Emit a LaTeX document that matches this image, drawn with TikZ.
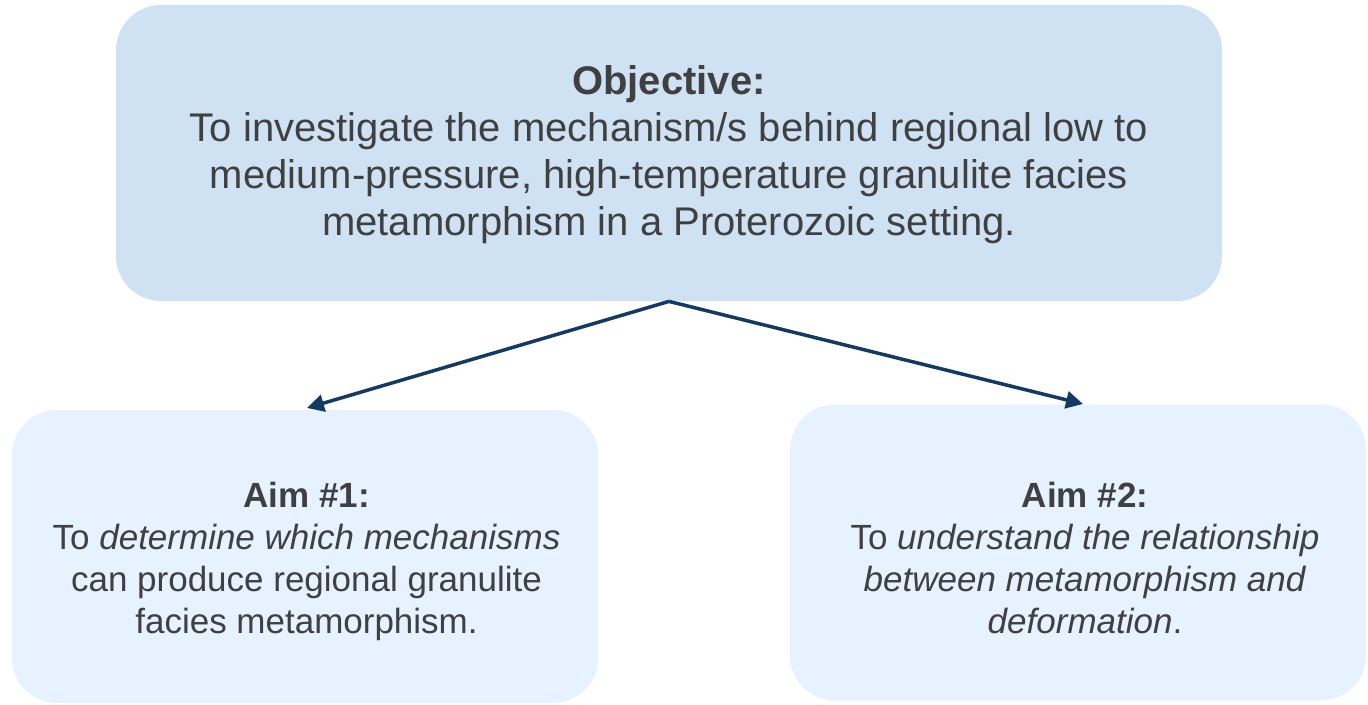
\documentclass[tikz,border=0pt]{standalone}
\usepackage{fontspec}
\setmainfont{Liberation Sans}
\usepackage{xcolor}
\definecolor{objblue}{RGB}{207,226,243}
\definecolor{aimblue}{RGB}{230,242,255}
\definecolor{navy}{RGB}{18,58,100}
\definecolor{textgrey}{RGB}{64,64,64}
\usepackage{tikz}
\usetikzlibrary{arrows.meta}
\tikzset{
  box/.style={rounded corners=22.5pt, align=center, inner sep=0pt},
  txt/.style={text=textgrey, align=center, inner sep=0pt},
  link/.style={navy, line width=1.75pt, -{Triangle[length=8.5pt,width=8.5pt]}}
}

\begin{document}
\begin{tikzpicture}[x=0.5pt, y=-0.5pt]
\useasboundingbox (0,0) rectangle (1368,705);

% Objective
\node[box, fill=objblue, minimum width=553pt, minimum height=148pt] (O) at (669,153) {};
\node[txt, font=\fontsize{20}{23.5}\selectfont] (Ot) at ([yshift=-1pt]O.center)
  {\textbf{Objective:}\\
   To investigate the mechanism/s behind regional low to\\
   medium-pressure, high-temperature granulite facies\\
   metamorphism in a Proterozoic setting.};

% Aims
\node[box, fill=aimblue, minimum width=293pt, minimum height=146.5pt] (A1) at (305,556.5) {};
\node[txt, font=\fontsize{17.5}{21}\selectfont] (A1t) at ([xshift=0.75pt,yshift=-2.5pt]A1.center)
  {\textbf{Aim \#1:}\\
   To \textit{determine which mechanisms}\\
   can produce regional granulite\\
   facies metamorphism.};
\node[box, fill=aimblue, minimum width=288pt, minimum height=148pt] (A2) at (1078,552.5) {};
\node[txt, font=\fontsize{17.5}{21}\selectfont] (A2t) at ([xshift=3.5pt,yshift=-2.5pt]A2.center)
  {\textbf{Aim \#2:}\\
   To \textit{understand the relationship}\\
   \textit{between metamorphism and}\\
   \textit{deformation}.};

% Connections
\coordinate (T1) at (307,408);
\coordinate (T2) at (1083,404);
\draw[link] (O.south) -- (T1);
\draw[link] (O.south) -- (T2);
\end{tikzpicture}
\end{document}
